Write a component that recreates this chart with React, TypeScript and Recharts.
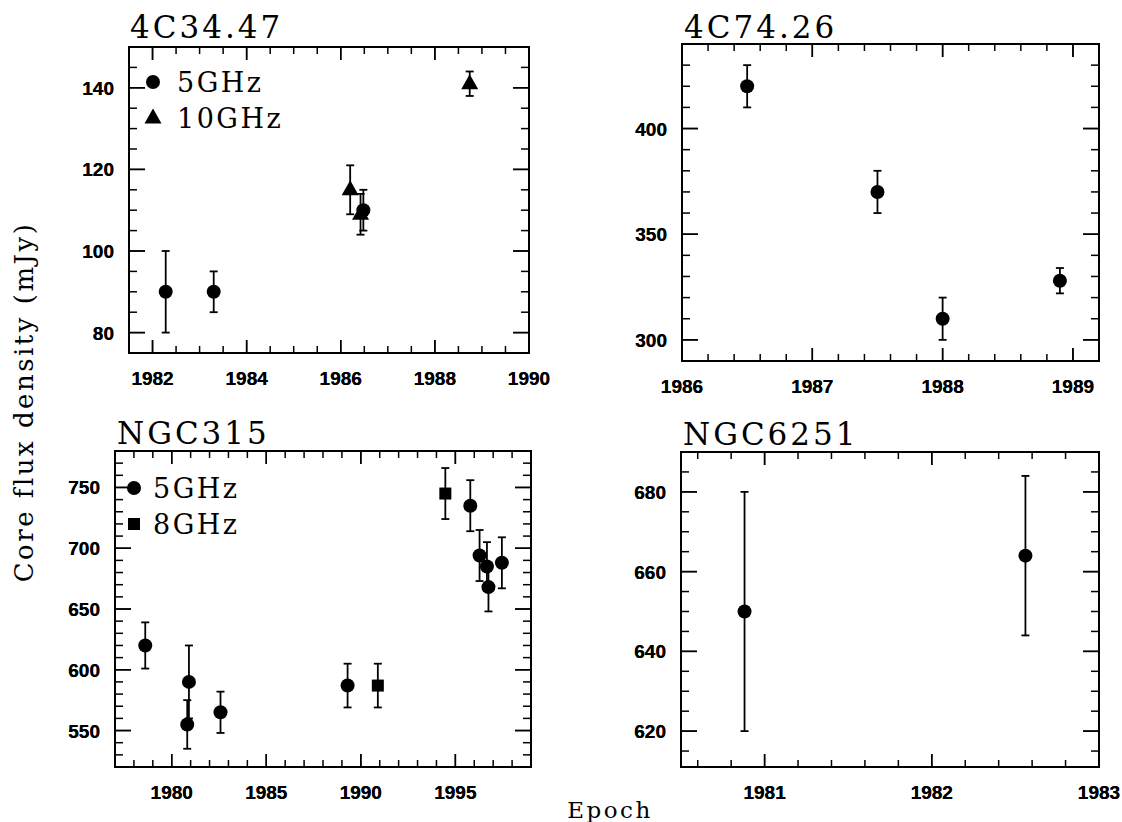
import React from 'react'
import { ScatterChart, Scatter, XAxis, YAxis, ErrorBar, ReferenceArea, Legend } from 'recharts'

// 4C34.47
const c3447Epoch5 = [1982.28, 1983.3, 1986.48]
const c3447Flux5 = [90, 90, 110]
const c3447Err5 = [10, 5, 5]
const c3447Epoch10 = [1986.2, 1986.42, 1988.74]
const c3447Flux10 = [115, 109, 141]
const c3447Err10 = [6, 5, 3]
const c3447XLabels = [1982, 1984, 1986, 1988, 1990]
const c3447YLabels = [80, 100, 120, 140]

// 4C74.26
const c7426Epoch5 = [1986.5, 1987.5, 1988.0, 1988.9]
const c7426Flux5 = [420, 370, 310, 328]
const c7426Err5 = [10, 10, 10, 6]
const c7426XLabels = [1986, 1987, 1988, 1989]
const c7426YLabels = [300, 350, 400]

// NGC315
const n315Epoch5 = [1978.6, 1980.91, 1980.82, 1982.58, 1989.3, 1995.79, 1996.28, 1996.67, 1996.75, 1997.46]
const n315Flux5 = [620, 590, 555, 565, 587, 735, 694, 685, 668, 688]
const n315Err5 = [19, 30, 20, 17, 18, 21, 21, 20, 20, 21]
const n315Epoch8 = [1994.47, 1990.9]
const n315Flux8 = [745, 587]
const n315Err8 = [21, 18]
const n315XLabels = [1980, 1985, 1990, 1995]
const n315YLabels = [550, 600, 650, 700, 750]

// NGC6251
const n6251Epoch5 = [1980.88, 1982.56]
const n6251Flux5 = [650, 664]
const n6251Err5 = [30, 20]
const n6251XLabels = [1981, 1982, 1983]
const n6251YLabels = [620, 640, 660, 680]

type Kind = 'circle' | 'triangle' | 'square'
type Pt = { x: number; y: number; err: number }
type Series = { name: string; kind: Kind; data: Pt[] }

const zip = (xs: number[], ys: number[], es: number[]): Pt[] =>
  xs.map((x, i) => ({ x, y: ys[i], err: es[i] }))

// minor tick positions, not data
const steps = (from: number, to: number, step: number) => {
  const out: number[] = []
  for (let i = 0; from + i * step <= to + 1e-9; i++) out.push(Math.round((from + i * step) * 1000) / 1000)
  return out
}

const isIn = (v: number, list: number[]) => list.some((m) => Math.abs(m - v) < 1e-6)

const YW = 70
const MT = 12
const MR = 34
const XH = 44

function marker(kind: Kind, cx: number, cy: number) {
  if (kind === 'triangle')
    return <polygon points={`${cx},${cy - 9.5} ${cx - 8.5},${cy + 5.5} ${cx + 8.5},${cy + 5.5}`} fill="#000" />
  if (kind === 'square') return <rect x={cx - 6} y={cy - 6} width={12} height={12} fill="#000" />
  return <circle cx={cx} cy={cy} r={7} fill="#000" />
}

interface PanelProps {
  box: { l: number; t: number; r: number; b: number }
  xDomain: [number, number]
  yDomain: [number, number]
  xLabels: number[]
  xMinor: number[]
  yLabels: number[]
  yMinor: number[]
  series: Series[]
  legend?: { x: number; y: number; gap: number }
}

function Panel({ box, xDomain, yDomain, xLabels, xMinor, yLabels, yMinor, series, legend }: PanelProps) {
  const bw = box.r - box.l
  const bh = box.b - box.t
  const W = bw + YW + MR
  const H = bh + MT + XH
  const pL = YW
  const pR = YW + bw
  const pT = MT
  const pB = MT + bh

  const xTick = (p: any) => {
    const v = p.payload.value
    const major = isIn(v, xLabels)
    const len = major ? 13 : 7
    return (
      <g>
        <line x1={p.x} x2={p.x} y1={pB} y2={pB - len} stroke="#000" strokeWidth={1.5} />
        <line x1={p.x} x2={p.x} y1={pT} y2={pT + len} stroke="#000" strokeWidth={1.5} />
        {major && (
          <text x={p.x} y={pB + 32} textAnchor="middle" fontFamily="Liberation Sans" fontSize={19} fontWeight="bold" fill="#000">
            {v}
          </text>
        )}
      </g>
    )
  }

  const yTick = (p: any) => {
    const v = p.payload.value
    const major = isIn(v, yLabels)
    const len = major ? 16 : 8
    return (
      <g>
        <line x1={pL} x2={pL + len} y1={p.y} y2={p.y} stroke="#000" strokeWidth={1.5} />
        <line x1={pR} x2={pR - len} y1={p.y} y2={p.y} stroke="#000" strokeWidth={1.5} />
        {major && (
          <text x={pL - 15} y={p.y + 7} textAnchor="end" fontFamily="Liberation Sans" fontSize={19} fontWeight="bold" fill="#000">
            {v}
          </text>
        )}
      </g>
    )
  }

  const legendContent = () =>
    legend ? (
      <svg width={200} height={90} style={{ overflow: 'visible', display: 'block' }}>
        {series.map((s, i) => (
          <g key={s.name}>
            {marker(s.kind, 10, 18 + i * 36)}
            <text x={10 + legend.gap} y={28 + i * 36} fontFamily="DejaVu Serif" fontSize={27} letterSpacing={2.5} fill="#000">
              {s.name}
            </text>
          </g>
        ))}
      </svg>
    ) : null

  return (
    <div style={{ position: 'absolute', left: box.l - YW, top: box.t - MT }}>
      <ScatterChart width={W} height={H} margin={{ top: MT, right: MR, left: 0, bottom: 0 }}>
        <XAxis
          type="number"
          dataKey="x"
          domain={xDomain}
          allowDataOverflow
          ticks={[...xMinor, ...xLabels].sort((a, b) => a - b)}
          interval={0}
          height={XH}
          axisLine={false}
          tickLine={false}
          tick={xTick}
        />
        <YAxis
          type="number"
          dataKey="y"
          domain={yDomain}
          allowDataOverflow
          ticks={[...yMinor, ...yLabels].sort((a, b) => a - b)}
          interval={0}
          width={YW}
          axisLine={false}
          tickLine={false}
          tick={yTick}
        />
        <ReferenceArea
          x1={xDomain[0]}
          x2={xDomain[1]}
          y1={yDomain[0]}
          y2={yDomain[1]}
          fill="none"
          stroke="#000"
          strokeWidth={2}
          ifOverflow="visible"
        />
        {series.map((s) => (
          <Scatter
            key={s.name}
            name={s.name}
            data={s.data}
            isAnimationActive={false}
            shape={(p: any) => marker(s.kind, p.cx, p.cy)}
          >
            <ErrorBar dataKey="err" direction="y" width={4} stroke="#000" strokeWidth={1.8} isAnimationActive={false} />
          </Scatter>
        ))}
        {legend && (
          <Legend
            layout="vertical"
            align="center"
            verticalAlign="middle"
            content={legendContent}
            wrapperStyle={{ position: 'absolute', left: legend.x - 10 - (box.l - YW), top: legend.y - 18 - (box.t - MT), width: 200, height: 90 }}
          />
        )}
      </ScatterChart>
    </div>
  )
}

export default function App() {
  const serif = 'DejaVu Serif'
  return (
    <div style={{ position: 'absolute', left: 0, top: 0, width: 1122, height: 822, background: '#fff', overflow: 'hidden' }}>
      <Panel
        box={{ l: 129, t: 47, r: 529, b: 353 }}
        xDomain={[1981.5, 1990]}
        yDomain={[75, 150]}
        xLabels={c3447XLabels}
        xMinor={steps(1981.5, 1990, 0.5)}
        yLabels={c3447YLabels}
        yMinor={steps(75, 150, 5)}
        series={[
          { name: '5GHz', kind: 'circle', data: zip(c3447Epoch5, c3447Flux5, c3447Err5) },
          { name: '10GHz', kind: 'triangle', data: zip(c3447Epoch10, c3447Flux10, c3447Err10) },
        ]}
        legend={{ x: 153, y: 82, gap: 24 }}
      />
      <Panel
        box={{ l: 682, t: 44, r: 1099, b: 361 }}
        xDomain={[1986, 1989.2]}
        yDomain={[290, 440]}
        xLabels={c7426XLabels}
        xMinor={steps(1986, 1989.2, 0.2)}
        yLabels={c7426YLabels}
        yMinor={steps(290, 440, 10)}
        series={[{ name: '5GHz', kind: 'circle', data: zip(c7426Epoch5, c7426Flux5, c7426Err5) }]}
      />
      <Panel
        box={{ l: 115, t: 451, r: 531, b: 767 }}
        xDomain={[1977, 1999]}
        yDomain={[520, 780]}
        xLabels={n315XLabels}
        xMinor={steps(1977, 1999, 1)}
        yLabels={n315YLabels}
        yMinor={steps(520, 780, 10)}
        series={[
          { name: '5GHz', kind: 'circle', data: zip(n315Epoch5, n315Flux5, n315Err5) },
          { name: '8GHz', kind: 'square', data: zip(n315Epoch8, n315Flux8, n315Err8) },
        ]}
        legend={{ x: 134, y: 488, gap: 19 }}
      />
      <Panel
        box={{ l: 681, t: 452, r: 1099, b: 767 }}
        xDomain={[1980.5, 1983]}
        yDomain={[611, 690]}
        xLabels={n6251XLabels}
        xMinor={steps(1980.6, 1983, 0.2)}
        yLabels={n6251YLabels}
        yMinor={steps(615, 690, 5)}
        series={[{ name: '5GHz', kind: 'circle', data: zip(n6251Epoch5, n6251Flux5, n6251Err5) }]}
      />
      <svg width={1122} height={822} style={{ position: 'absolute', left: 0, top: 0, pointerEvents: 'none' }}>
        <g fontFamily={serif} fill="#000" fontSize={31} letterSpacing={3}>
          <text x={130} y={38}>4C34.47</text>
          <text x={684} y={38}>4C74.26</text>
          <text x={117} y={444}>NGC315</text>
          <text x={683} y={445}>NGC6251</text>
        </g>
        <text x={610} y={818} textAnchor="middle" fontFamily={serif} fontSize={23} letterSpacing={2.5} fill="#000">
          Epoch
        </text>
        <text
          transform="translate(33 402) rotate(-90)"
          textAnchor="middle"
          fontFamily={serif}
          fontSize={26}
          letterSpacing={2.5}
          fill="#000"
        >
          Core flux density (mJy)
        </text>
      </svg>
    </div>
  )
}
